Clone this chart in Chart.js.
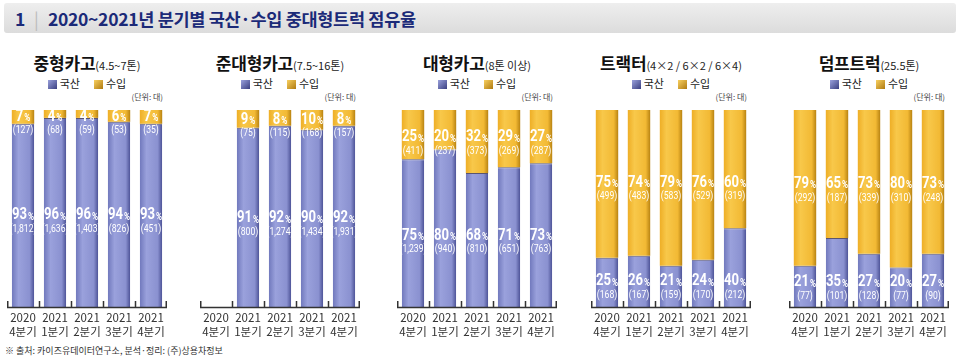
<!DOCTYPE html>
<html>
<head>
<meta charset="utf-8">
<title>2020~2021년 분기별 국산·수입 중대형트럭 점유율</title>
<script src="https://cdn.jsdelivr.net/npm/chart.js"></script>
<style>
  body { margin: 0; background: #fff; font-family: "Noto Sans CJK KR", sans-serif; }
  #wrap { position: relative; width: 960px; height: 359px; overflow: hidden; }
  .header { position: absolute; left: 4px; top: 3px; width: 952px; height: 30px; border-radius: 3px;
            background: linear-gradient(#eeeeee, #dcdcdc); }
  .header span { position: absolute; top: 3px; font-size: 17.5px; font-weight: 600; color: #1b2a78; letter-spacing: -0.3px; }
  .panel-title { position: absolute; top: 50px; text-align: center; white-space: nowrap; color: #111; }
  .panel-title b { font-size: 17px; font-weight: 700; letter-spacing: -0.2px; }
  .panel-title small { font-size: 11px; color: #222; }
  .legend { position: absolute; top: 75px; text-align: center; font-size: 11px; color: #222; white-space: nowrap; }
  .legend i { display: inline-block; width: 9px; height: 9px; margin-right: 3px; vertical-align: -1px; }
  .unit { position: absolute; top: 91px; font-size: 8px; color: #444; text-align: right; }
  .foot { position: absolute; left: 5px; top: 344px; font-size: 9px; color: #333; }
  canvas { position: absolute; }
</style>
</head>
<body>
<div id="wrap">
  <div class="header">
    <span style="left:11px">1</span>
    <span style="left:30px;color:#bbb;font-weight:400">|</span>
    <span style="left:44px">2020~2021년 분기별 국산·수입 중대형트럭 점유율</span>
  </div>
  <div class="foot">※ 출처: 카이즈유데이터연구소, 분석·정리: (주)상용차정보</div>
</div>

<script>
  // categories
  var quarters = [["2020", "4분기"], ["2021", "1분기"], ["2021", "2분기"], ["2021", "3분기"], ["2021", "4분기"]];
  var seriesNames = ["국산", "수입"];

  // panel titles
  var panelNames = ["중형카고", "준대형카고", "대형카고", "트랙터", "덤프트럭"];
  var panelSubs = ["(4.5~7톤)", "(7.5~16톤)", "(8톤 이상)", "(4×2 / 6×2 / 6×4)", "(25.5톤)"];

  // share (%) and units per panel
  var midDomPct = [93, 96, 96, 94, 93];
  var midDomCnt = [1812, 1636, 1403, 826, 451];
  var midImpPct = [7, 4, 4, 6, 7];
  var midImpCnt = [127, 68, 59, 53, 35];

  var semiDomPct = [null, 91, 92, 90, 92];
  var semiDomCnt = [null, 800, 1274, 1434, 1931];
  var semiImpPct = [null, 9, 8, 10, 8];
  var semiImpCnt = [null, 75, 115, 168, 157];

  var largeDomPct = [75, 80, 68, 71, 73];
  var largeDomCnt = [1239, 940, 810, 651, 763];
  var largeImpPct = [25, 20, 32, 29, 27];
  var largeImpCnt = [411, 237, 373, 269, 287];

  var tractorDomPct = [25, 26, 21, 24, 40];
  var tractorDomCnt = [168, 167, 159, 170, 212];
  var tractorImpPct = [75, 74, 79, 76, 60];
  var tractorImpCnt = [499, 483, 583, 529, 319];

  var dumpDomPct = [21, 35, 27, 20, 27];
  var dumpDomCnt = [77, 101, 128, 77, 90];
  var dumpImpPct = [79, 65, 73, 80, 73];
  var dumpImpCnt = [292, 187, 339, 310, 248];

  var panels = [
    [midDomPct, midDomCnt, midImpPct, midImpCnt],
    [semiDomPct, semiDomCnt, semiImpPct, semiImpCnt],
    [largeDomPct, largeDomCnt, largeImpPct, largeImpCnt],
    [tractorDomPct, tractorDomCnt, tractorImpPct, tractorImpCnt],
    [dumpDomPct, dumpDomCnt, dumpImpPct, dumpImpCnt]
  ];

  // layout
  var plotLeft = [7, 200, 397, 591, 789];
  var plotWidth = 160;
  var plotTop = 110, plotHeight = 197, axisHeight = 45, pad = 6;
  var FONT = "'Noto Sans CJK KR', sans-serif";
  var NUMFONT = "Roboto, 'Noto Sans CJK KR', sans-serif";
  var SQUEEZE = 0.82;

  var colorSets = [
    { stops: ["#7078bc", "#9aa1dc", "#8a91d0", "#4c5296"], flat: "#8a90d0", legend: "linear-gradient(135deg,#9aa1dc,#3a3f80)" },
    { stops: ["#eeae26", "#f8c84a", "#f2b934", "#b88312"], flat: "#f2b832", legend: "linear-gradient(135deg,#f8d060,#b07a10)" }
  ];

  function barFill(ds) {
    return function (ctx) {
      var chart = ctx.chart;
      if (!chart.chartArea) return colorSets[ds].flat;
      var xs = chart.scales.x;
      var cx = xs.getPixelForValue(ctx.dataIndex);
      var w = xs.width / quarters.length * 0.7;
      var g = chart.ctx.createLinearGradient(cx - w / 2, 0, cx + w / 2, 0);
      var s = colorSets[ds].stops;
      g.addColorStop(0, s[0]);
      g.addColorStop(0.3, s[1]);
      g.addColorStop(0.8, s[2]);
      g.addColorStop(1, s[3]);
      return g;
    };
  }

  function avg(arr) {
    var sum = 0, n = 0;
    arr.forEach(function (v) { if (v != null) { sum += v; n++; } });
    return n ? sum / n : 0;
  }

  // baseline with upward tick marks at category boundaries
  var axisPlugin = {
    id: "axisLine",
    afterDatasetsDraw: function (chart) {
      var c = chart.ctx, a = chart.chartArea, n = quarters.length;
      c.save();
      c.strokeStyle = "#333";
      c.lineWidth = 1.5;
      c.beginPath();
      c.moveTo(a.left, a.bottom + 0.5);
      c.lineTo(a.right, a.bottom + 0.5);
      for (var k = 0; k <= n; k++) {
        var x = Math.round(a.left + k * (a.right - a.left) / n) + 0.5;
        x = Math.min(Math.max(x, a.left + 0.75), a.right - 0.75);
        c.moveTo(x, a.bottom + 0.5);
        c.lineTo(x, a.bottom - 6);
      }
      c.stroke();
      c.restore();
    }
  };

  // percent + unit labels inside bars, aligned per panel
  var labelPlugin = {
    id: "shareLabels",
    afterDatasetsDraw: function (chart) {
      var c = chart.ctx, ys = chart.scales.y;
      var counts = chart.options.plugins.shareLabels.counts;
      var domAvg = avg(chart.data.datasets[0].data);
      var centers = [domAvg / 2, (domAvg + 100) / 2];
      chart.data.datasets.forEach(function (ds, di) {
        var meta = chart.getDatasetMeta(di);
        var yc = ys.getPixelForValue(centers[di]) + 8;
        meta.data.forEach(function (bar, i) {
          var v = ds.data[i];
          if (v == null) return;
          var num = String(v);
          c.save();
          c.translate(bar.x, 0);
          c.scale(SQUEEZE, 1);
          c.fillStyle = "#fff";
          c.textBaseline = "middle";
          c.font = "bold 16px " + NUMFONT;
          var w1 = c.measureText(num).width;
          c.font = "bold 10px " + NUMFONT;
          var w2 = c.measureText("%").width;
          var x0 = -(w1 + w2 + 1) / 2;
          c.textAlign = "left";
          c.font = "bold 16px " + NUMFONT;
          c.fillText(num, x0, yc - 7);
          c.font = "bold 10px " + NUMFONT;
          c.fillText("%", x0 + w1 + 1, yc - 5);
          c.font = "10.5px " + NUMFONT;
          c.textAlign = "center";
          c.fillText("(" + counts[di][i].toLocaleString("en-US") + ")", 0, yc + 7);
          c.restore();
        });
      });
    }
  };

  var wrap = document.getElementById("wrap");

  panels.forEach(function (p, pi) {
    var left = plotLeft[pi];

    var title = document.createElement("div");
    title.className = "panel-title";
    title.style.left = left + "px";
    title.style.width = plotWidth + "px";
    title.innerHTML = "<b>" + panelNames[pi] + "</b><small>" + panelSubs[pi] + "</small>";
    wrap.appendChild(title);

    var legend = document.createElement("div");
    legend.className = "legend";
    legend.style.left = left + "px";
    legend.style.width = plotWidth + "px";
    legend.innerHTML = "<i style='background:" + colorSets[0].legend + "'></i>" + seriesNames[0] +
      "<span style='display:inline-block;width:14px'></span>" +
      "<i style='background:" + colorSets[1].legend + "'></i>" + seriesNames[1];
    wrap.appendChild(legend);

    var unit = document.createElement("div");
    unit.className = "unit";
    unit.style.left = left + "px";
    unit.style.width = (plotWidth - 4) + "px";
    unit.textContent = "(단위: 대)";
    wrap.appendChild(unit);

    var canvas = document.createElement("canvas");
    canvas.width = plotWidth + pad * 2;
    canvas.height = 4 + plotHeight + axisHeight;
    canvas.style.left = (left - pad) + "px";
    canvas.style.top = (plotTop - 4) + "px";
    wrap.appendChild(canvas);

    new Chart(canvas.getContext("2d"), {
      type: "bar",
      data: {
        labels: quarters,
        datasets: [
          { label: seriesNames[0], data: p[0], backgroundColor: barFill(0),
            borderColor: "#5a5570", borderWidth: { top: 1, left: 0, right: 0, bottom: 0 }, borderSkipped: "bottom" },
          { label: seriesNames[1], data: p[2], backgroundColor: barFill(1), borderWidth: 0 }
        ]
      },
      options: {
        responsive: false,
        animation: false,
        layout: { padding: { top: 4, left: pad, right: pad, bottom: 0 } },
        datasets: { bar: { categoryPercentage: 1, barPercentage: 0.7 } },
        plugins: {
          legend: { display: false },
          tooltip: { enabled: false },
          shareLabels: { counts: [p[1], p[3]] }
        },
        scales: {
          x: {
            stacked: true,
            grid: { display: false, drawTicks: false },
            border: { display: false },
            ticks: { color: "#333", font: { family: FONT, size: 11.5, lineHeight: 1.25 }, padding: 3, maxRotation: 0, autoSkip: false },
            afterFit: function (scale) { scale.height = axisHeight; }
          },
          y: { stacked: true, display: false, min: 0, max: 100 }
        }
      },
      plugins: [axisPlugin, labelPlugin]
    });
  });
</script>
</body>
</html>
